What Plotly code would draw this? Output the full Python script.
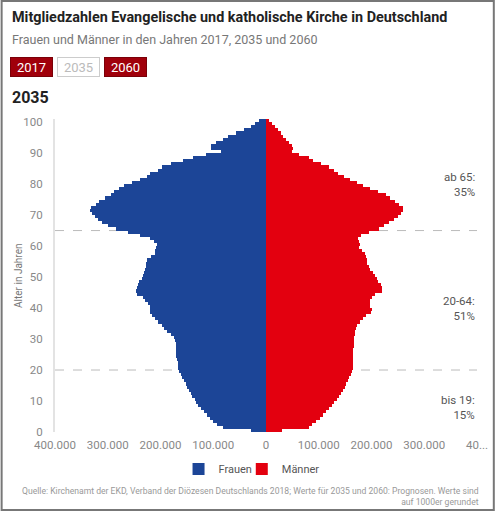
import plotly.graph_objects as go

# Kirchenmitglieder 2035 (Prognose) in Tausend, je Altersjahr 0..100
alter = list(range(0, 101))
frauen = [29, 82, 92, 101, 107, 112, 117, 123, 128, 132,
          135, 140, 143, 146, 149, 152, 156, 159, 162, 164,
          166, 166, 167, 168, 170, 171, 171, 171, 171, 172,
          175, 181, 187, 193, 198, 204, 211, 217, 219, 219,
          220, 224, 229, 233, 245, 247, 244, 243, 240, 236,
          233, 231, 229, 228, 228, 226, 218, 211, 210, 209,
          207, 212, 220, 238, 262, 285, 300, 311, 319, 325,
          330, 333, 331, 322, 316, 306, 294, 288, 279, 269,
          254, 238, 226, 219, 205, 197, 180, 158, 138, 113,
          86, 104, 104, 94, 82, 72, 57, 41, 28, 21, 14]
maenner = [31, 81, 88, 95, 103, 108, 113, 119, 125, 129,
           134, 139, 143, 146, 149, 152, 155, 158, 161, 163,
           164, 165, 165, 165, 165, 165, 165, 166, 166, 166,
           167, 168, 168, 170, 173, 178, 184, 190, 199, 200,
           197, 197, 197, 200, 207, 219, 219, 218, 212, 211,
           206, 203, 198, 195, 192, 191, 190, 188, 182, 177,
           178, 176, 175, 180, 196, 214, 224, 234, 243, 251,
           256, 259, 259, 253, 245, 236, 228, 212, 197, 184,
           172, 159, 147, 137, 128, 119, 105, 90, 81, 62,
           50, 51, 50, 44, 37, 33, 28, 22, 17, 12, 6]

jahre = ["2017", "2035", "2060"]
x_ticks = [-400000, -300000, -200000, -100000, 0, 100000, 200000, 300000, 400000]
x_labels = ["400.000", "300.000", "200.000", "100.000", "0",
            "100.000", "200.000", "300.000", "40..."]
y_ticks = list(range(0, 101, 10))
grenzen = [65, 20]
gruppen = ["ab 65:<br>35%", "20-64:<br>51%", "bis 19:<br>15%"]

BLAU = "#1c4597"
ROT = "#e3000f"
DUNKELROT = "#a0000b"
FONT = "Liberation Sans Narrow, Roboto, sans-serif"

# plot area in pixels: left 55, right 482, top 119, bottom 432
def px_x(p):
    return (p - 55) / 427

def px_y(p):
    return (432 - p) / 313

fig = go.Figure()
fig.add_trace(go.Bar(
    y=alter, x=[-v * 1000 for v in frauen], orientation="h",
    name="Frauen", marker=dict(color=BLAU, line=dict(width=0)),
    width=1, offset=0, customdata=[v * 1000 for v in frauen], legend="legend",
    hovertemplate="Frauen, %{y} Jahre: %{customdata:,}<extra></extra>"))
fig.add_trace(go.Bar(
    y=alter, x=[v * 1000 for v in maenner], orientation="h",
    name="Männer", marker=dict(color=ROT, line=dict(width=0)),
    width=1, offset=0, legend="legend2",
    hovertemplate="Männer, %{y} Jahre: %{x:,}<extra></extra>"))

for g in grenzen:
    fig.add_shape(type="line", xref="paper", yref="y", x0=0, x1=1, y0=g, y1=g,
                  line=dict(color="#bbbbbb", width=1, dash="dash"), layer="below")

ann = []
for txt, yy in zip(gruppen, [80, 40, 8]):
    ann.append(dict(text=txt, xref="paper", yref="y", x=1, y=yy, xanchor="right",
                    yanchor="middle", align="right", showarrow=False,
                    font=dict(size=11.5, color="#555555")))

ann.append(dict(text="<b>Mitgliedzahlen Evangelische und katholische Kirche in Deutschland</b>",
                xref="paper", yref="paper", x=px_x(9), y=px_y(17), xanchor="left",
                yanchor="middle", showarrow=False, font=dict(size=14.4, color="#222222")))
ann.append(dict(text="Frauen und Männer in den Jahren 2017, 2035 und 2060",
                xref="paper", yref="paper", x=px_x(9), y=px_y(40), xanchor="left",
                yanchor="middle", showarrow=False, font=dict(size=12.5, color="#777777")))
for jahr, cx in zip(jahre, [31.5, 78.5, 126]):
    aktiv = jahr == "2035"
    ann.append(dict(text=jahr, xref="paper", yref="paper", x=px_x(cx), y=px_y(66.5),
                    xanchor="center", yanchor="middle", showarrow=False,
                    width=39, height=16, borderpad=1, borderwidth=1,
                    bgcolor="white" if aktiv else DUNKELROT,
                    bordercolor="#cccccc" if aktiv else "#7a0008",
                    font=dict(size=13, color="#bbbbbb" if aktiv else "white")))
ann.append(dict(text="<b>2035</b>", xref="paper", yref="paper", x=px_x(9), y=px_y(97),
                xanchor="left", yanchor="middle", showarrow=False,
                font=dict(size=16, color="#222222")))
ann.append(dict(text="Alter in Jahren", xref="paper", yref="paper", x=px_x(18), y=0.5,
                textangle=-90, xanchor="center", yanchor="middle", showarrow=False,
                font=dict(size=10, color="#777777")))
ann.append(dict(text="Quelle: Kirchenamt der EKD, Verband der Diözesen Deutschlands 2018; "
                     "Werte für 2035 und 2060: Prognosen. Werte sind<br>auf 1000er gerundet",
                xref="paper", yref="paper", x=px_x(486), y=px_y(496), xanchor="right",
                yanchor="middle", align="right", showarrow=False,
                font=dict(size=8.6, color="#999999")))

# grey frame round the whole graphic
fig.add_shape(type="rect", xref="paper", yref="paper",
              x0=px_x(1), x1=px_x(499), y0=px_y(1), y1=px_y(510),
              line=dict(color="#777777", width=2))

legend_style = dict(orientation="h", xanchor="left", yanchor="middle",
                    y=px_y(469), bgcolor="rgba(0,0,0,0)",
                    font=dict(size=11, color="#555555"))
fig.update_layout(
    width=500, height=511,
    margin=dict(l=55, r=18, t=119, b=79),
    paper_bgcolor="white", plot_bgcolor="white",
    font=dict(family=FONT, color="#777777"),
    barmode="overlay", bargap=0,
    showlegend=True,
    legend=dict(x=px_x(180), **legend_style),
    legend2=dict(x=px_x(244), **legend_style),
    annotations=ann,
)
fig.update_xaxes(range=[-400000, 400000], tickvals=x_ticks, ticktext=x_labels,
                 showgrid=False, zeroline=False, showline=False,
                 ticklabelstandoff=4, tickfont=dict(size=11.5, color="#888888"),
                 fixedrange=True)
fig.update_yaxes(range=[0, 101], tickvals=y_ticks, showgrid=False, zeroline=False,
                 showline=True, linecolor="#e3e3e3", linewidth=2,
                 ticklabelstandoff=8, tickfont=dict(size=11.5, color="#888888"),
                 fixedrange=True)

fig.write_html("out.html", config={"displayModeBar": False},
               post_script="document.body.style.margin='0';"
                           "document.body.style.overflow='hidden';"
                           "document.documentElement.style.overflow='hidden';")
